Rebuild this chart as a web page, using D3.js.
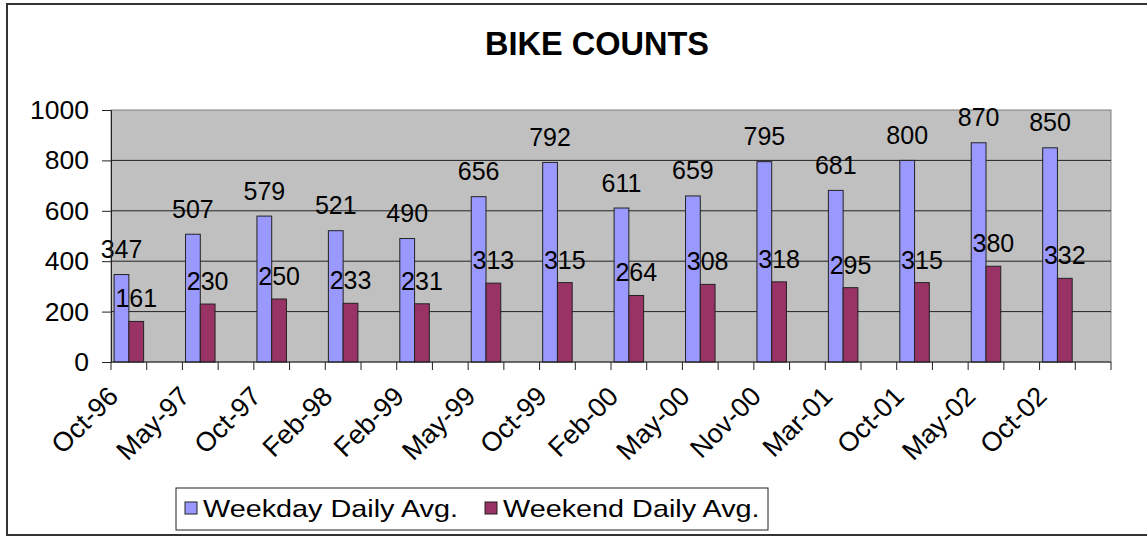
<!DOCTYPE html>
<html>
<head>
<meta charset="utf-8">
<script src="https://cdn.jsdelivr.net/npm/d3@7"></script>
<style>
  html, body { margin: 0; padding: 0; background: #fff; }
  svg { display: block; }
  text { font-family: "Liberation Sans", Arial, sans-serif; fill: #000; }
</style>
</head>
<body>
<svg id="chart" width="1147" height="537"></svg>
<script>
const categories = ["Oct-96","May-97","Oct-97","Feb-98","Feb-99","May-99","Oct-99","Feb-00","May-00","Nov-00","Mar-01","Oct-01","May-02","Oct-02"];
const weekday = [347,507,579,521,490,656,792,611,659,795,681,800,870,850];
const weekend = [161,230,250,233,231,313,315,264,308,318,295,315,380,332];
const seriesNames = ["Weekday Daily Avg.","Weekend Daily Avg."];
const seriesColors = ["#9999FF","#993366"];
const yTicks = [0,200,400,600,800,1000];
const title = "BIKE COUNTS";

const svg = d3.select("#chart");
const plot = {left: 111, right: 1111, top: 110, bottom: 362};

// outer border
svg.append("rect").attr("x", 7).attr("y", 4).attr("width", 1160).attr("height", 531)
  .attr("fill", "#fff").attr("stroke", "#333").attr("stroke-width", 2);

// title
svg.append("text").attr("x", 597).attr("y", 55).attr("text-anchor", "middle")
  .style("font-size", "32.5px").style("font-weight", "bold").text(title);

// scales: each category occupies two slots (data slot + empty slot)
const slots = [];
categories.forEach(c => { slots.push(c); slots.push(c + "_gap"); });
const x = d3.scaleBand().domain(slots).range([plot.left, plot.right]).paddingInner(0).paddingOuter(0);
const y = d3.scaleLinear().domain([0, 1000]).range([plot.bottom, plot.top]);

// plot background
svg.append("rect").attr("x", plot.left).attr("y", plot.top)
  .attr("width", plot.right - plot.left).attr("height", plot.bottom - plot.top)
  .attr("fill", "#C0C0C0").attr("stroke", "#808080").attr("stroke-width", 1);

// gridlines
svg.append("g").selectAll("line").data(yTicks.filter(d => d > 0 && d < 1000)).join("line")
  .attr("x1", plot.left).attr("x2", plot.right)
  .attr("y1", d => y(d)).attr("y2", d => y(d))
  .attr("stroke", "#222").attr("stroke-width", 1);

// bars
const inner = d3.scaleBand().domain([0,1]).range([0, x.bandwidth()]).paddingInner(0).paddingOuter(0.21);
const groups = svg.append("g").selectAll("g").data(categories).join("g")
  .attr("transform", c => `translate(${x(c)},0)`);
[weekday, weekend].forEach((vals, si) => {
  groups.append("rect")
    .attr("x", inner(si))
    .attr("y", (c, i) => y(vals[i]))
    .attr("width", inner.bandwidth())
    .attr("height", (c, i) => y(0) - y(vals[i]))
    .attr("fill", seriesColors[si]).attr("stroke", "#222").attr("stroke-width", 1);
  groups.append("text")
    .attr("x", inner(si) + inner.bandwidth() / 2)
    .attr("y", (c, i) => y(vals[i]) - (si === 0 ? 16.5 : 14))
    .attr("text-anchor", "middle")
    .style("font-size", "25px")
    .text((c, i) => vals[i]);
});

// y axis
const yAxis = d3.axisLeft(y).tickValues(yTicks).tickSize(9).tickPadding(13).tickFormat(d3.format("d"));
const gy = svg.append("g").attr("transform", `translate(${plot.left},0)`).call(yAxis);
gy.select(".domain").attr("stroke", "#222");
gy.selectAll(".tick line").attr("stroke", "#222");
gy.selectAll(".tick text").style("font-size", "26.5px").style("font-family", "Liberation Sans, Arial, sans-serif").attr("fill", "#000");

// x axis line and ticks at slot boundaries
const xAxisG = svg.append("g");
xAxisG.append("line").attr("x1", plot.left).attr("x2", plot.right)
  .attr("y1", plot.bottom).attr("y2", plot.bottom).attr("stroke", "#222");
const boundaries = slots.map(s => x(s)).concat([plot.right]);
xAxisG.selectAll("line.tk").data(boundaries).join("line").attr("class", "tk")
  .attr("x1", d => d).attr("x2", d => d)
  .attr("y1", plot.bottom).attr("y2", plot.bottom + 8).attr("stroke", "#222");
xAxisG.selectAll("text").data(categories).join("text")
  .attr("transform", c => `translate(${x(c) + x.bandwidth() / 2 - 9},${plot.bottom + 36}) rotate(-45)`)
  .attr("text-anchor", "end")
  .style("font-size", "27px")
  .text(c => c);

// legend
const lg = svg.append("g");
lg.append("rect").attr("x", 176).attr("y", 488).attr("width", 592).attr("height", 42)
  .attr("fill", "#fff").attr("stroke", "#222").attr("stroke-width", 1);
const legendX = [185, 485];
seriesNames.forEach((n, i) => {
  lg.append("rect").attr("x", legendX[i]).attr("y", 502).attr("width", 12).attr("height", 12)
    .attr("fill", seriesColors[i]).attr("stroke", "#222").attr("stroke-width", 1);
  lg.append("text").attr("transform", `translate(${legendX[i] + 18},517) scale(1.2,1)`)
    .style("font-size", "24px").text(n);
});
</script>
</body>
</html>
